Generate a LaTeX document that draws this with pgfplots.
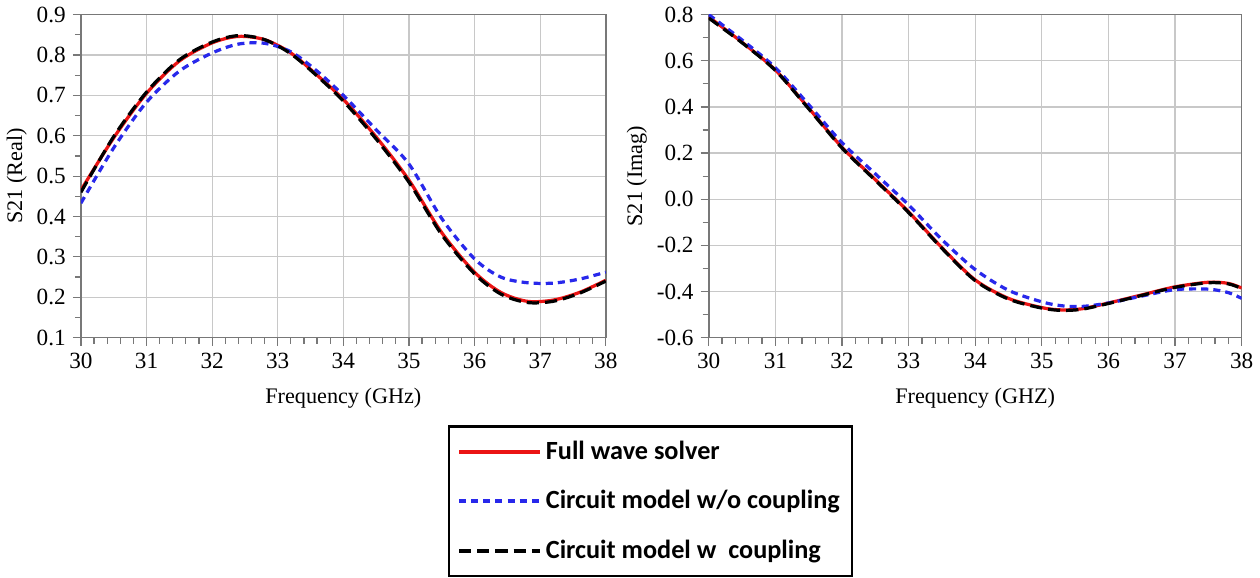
\documentclass[border=0pt]{standalone}
\usepackage{pgfplots}
\pgfplotsset{compat=1.18}
\usepackage{fontspec}
\setmainfont{Liberation Serif}
\newfontfamily\legfont{Carlito}

\definecolor{fwred}{RGB}{235,20,20}
\definecolor{cmblue}{RGB}{40,40,235}
\definecolor{gridgray}{RGB}{200,200,200}
\definecolor{framegray}{RGB}{120,120,120}

\pgfplotsset{
  myaxis/.style={
    scale only axis,
    height=160pt,
    xmin=30, xmax=38,
    xtick={30,31,...,38},
    minor x tick num=4,
    minor y tick num=1,
    xtick pos=bottom, ytick pos=left,
    grid=major,
    major grid style={gridgray, line width=0.6pt},
    axis line style={framegray, line width=0.8pt},
    tick style={framegray, line width=0.6pt},
    tick align=outside,
    major tick length=4pt,
    minor tick length=3pt,
    font=\fontsize{11}{13}\selectfont,
    tick label style={font=\fontsize{11.5}{13}\selectfont},
    /pgf/number format/assume math mode=true,
    yticklabel style={/pgf/number format/fixed, /pgf/number format/fixed zerofill, /pgf/number format/precision=1},
    xlabel={Frequency (GHz)},
    xlabel style={yshift=-3pt},
  },
  fw/.style={fwred, line width=1.6pt, smooth},
  cmno/.style={cmblue, line width=1.6pt, dash pattern=on 3.5pt off 2.5pt, smooth},
  cmw/.style={black, line width=1.6pt, dash pattern=on 6pt off 3pt, smooth},
}

\begin{document}
\begin{tikzpicture}
\begin{axis}[myaxis,
  width=260pt,
  ymin=0.1, ymax=0.9,
  ytick={0.1,0.2,...,0.9},
  ylabel={S21 (Real)},
  ylabel style={yshift=-2pt},
  legend style={at={(1.085,-0.272)}, anchor=north, draw=black, line width=1.2pt,
    font=\legfont\bfseries\fontsize{13}{15}\selectfont, text=black,
    row sep=10pt, inner xsep=4pt, inner ysep=5pt, cells={anchor=west}},
  legend image code/.code={\draw[#1, line width=2pt] (0pt,0pt) -- (40pt,0pt);},
]
\addplot[fw] coordinates {
 (30,0.465) (30.5,0.595) (31,0.705) (31.5,0.785) (32,0.830) (32.4,0.846) (32.8,0.838)
 (33.2,0.805) (33.6,0.750) (34,0.690) (34.5,0.597) (35,0.490) (35.5,0.360) (36,0.262)
 (36.4,0.212) (36.8,0.190) (37.2,0.193) (37.6,0.212) (38,0.242)
};
\addlegendentry{Full wave solver}
\addplot[cmno] coordinates {
 (30,0.433) (30.5,0.570) (31,0.683) (31.5,0.760) (32,0.805) (32.4,0.827) (32.8,0.829)
 (33.2,0.808) (33.6,0.760) (34,0.700) (34.5,0.615) (35,0.530) (35.5,0.395) (36,0.295)
 (36.4,0.250) (36.8,0.236) (37.2,0.235) (37.6,0.245) (38,0.262)
};
\addlegendentry{Circuit model w/o coupling}
\addplot[cmw] coordinates {
 (30,0.460) (30.5,0.598) (31,0.708) (31.5,0.788) (32,0.832) (32.4,0.848) (32.8,0.838)
 (33.2,0.803) (33.6,0.748) (34,0.686) (34.5,0.592) (35,0.485) (35.5,0.355) (36,0.258)
 (36.4,0.208) (36.8,0.187) (37.2,0.190) (37.6,0.210) (38,0.240)
};
\addlegendentry{Circuit model w\ \ coupling}
\end{axis}

\begin{axis}[myaxis,
  at={(311pt,0)},
  width=264pt,
  ymin=-0.6, ymax=0.8,
  ytick={-0.6,-0.4,...,0.8},
  xlabel={Frequency (GHZ)},
  ylabel={S21 (Imag)},
  ylabel style={yshift=-2pt},
]
\addplot[fw] coordinates {
 (30,0.790) (30.5,0.680) (31,0.560) (31.5,0.395) (32,0.225) (32.5,0.085) (33,-0.055)
 (33.5,-0.210) (34,-0.350) (34.5,-0.430) (35,-0.470) (35.3,-0.480) (35.6,-0.475)
 (36,-0.450) (36.5,-0.415) (37,-0.380) (37.5,-0.360) (37.8,-0.365) (38,-0.385)
};
\addplot[cmno] coordinates {
 (30,0.800) (30.5,0.690) (31,0.570) (31.5,0.410) (32,0.245) (32.5,0.110) (33,-0.025)
 (33.5,-0.175) (34,-0.305) (34.5,-0.395) (35,-0.445) (35.3,-0.462) (35.6,-0.465)
 (36,-0.450) (36.5,-0.420) (37,-0.392) (37.5,-0.390) (37.8,-0.405) (38,-0.430)
};
\addplot[cmw] coordinates {
 (30,0.785) (30.5,0.678) (31,0.558) (31.5,0.392) (32,0.222) (32.5,0.082) (33,-0.058)
 (33.5,-0.213) (34,-0.353) (34.5,-0.433) (35,-0.472) (35.3,-0.482) (35.6,-0.477)
 (36,-0.452) (36.5,-0.417) (37,-0.382) (37.5,-0.362) (37.8,-0.367) (38,-0.387)
};
\end{axis}
\end{tikzpicture}
\end{document}
